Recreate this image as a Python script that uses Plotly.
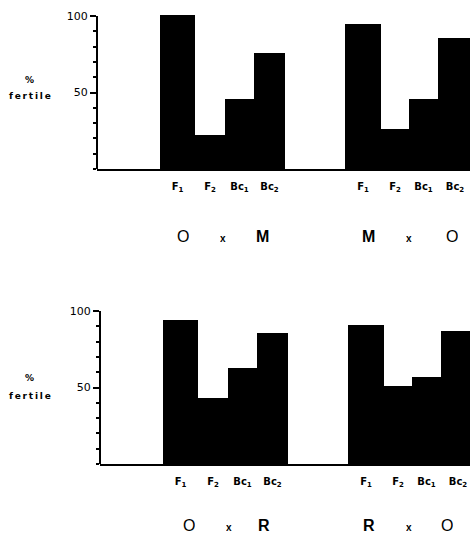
import plotly.graph_objects as go

# ---------------- data ----------------
generations = ["F<sub>1</sub>", "F<sub>2</sub>", "Bc<sub>1</sub>", "Bc<sub>2</sub>"]
crosses_top = [("O", "M"), ("M", "O")]
crosses_bottom = [("O", "R"), ("R", "O")]
fertile_OxM = [101, 22, 46, 76]
fertile_MxO = [95, 26, 46, 86]
fertile_OxR = [94, 43, 63, 86]
fertile_RxO = [91, 51, 57, 87]
y_tick_values = [50, 100]
y_tick_labels = ["50", "100"]

# ---------------- layout helpers ----------------
W, H = 470, 533
PX_PER_UNIT = 1.53
Y_MAX = 104
lead, gap = 63, 60
widths = [[35, 30, 29, 31], [36, 28, 29, 34]]

def py(p):
    return 1 - p / H

panels = [
    dict(axis_x=97, base=169, crosses=crosses_top, vals=[fertile_OxM, fertile_MxO],
         label_y=236, pct_y=80, fert_y=96,
         label_dx=[[-40, 0, 40], [-40, 0, 43]]),
    dict(axis_x=100, base=464, crosses=crosses_bottom, vals=[fertile_OxR, fertile_RxO],
         label_y=525, pct_y=378, fert_y=396,
         label_dx=[[-37, 3, 38], [-43, -3, 35]]),
]

fig = go.Figure()
font_fam = "DejaVu Sans, Liberation Sans, Arial"
annotations = []
shapes = []

for i, p in enumerate(panels, start=1):
    xa = "x" if i == 1 else f"x{i}"
    ya = "y" if i == 1 else f"y{i}"
    xs, ws, ys, tickx, tickt = [], [], [], [], []
    pos = lead
    centers = []
    for g in range(2):
        start = pos
        for k in range(4):
            w = widths[g][k]
            xs.append(pos + w / 2)
            ws.append(w)
            ys.append(p["vals"][g][k])
            tickx.append(pos + w / 2)
            tickt.append(generations[k])
            pos += w
        centers.append((start + pos) / 2)
        pos += gap
    fig.add_trace(go.Bar(x=xs, y=ys, width=ws, marker=dict(color="black", line=dict(width=0)),
                         xaxis=xa, yaxis=ya, showlegend=False, hoverinfo="skip"))
    xr = W - p["axis_x"]
    top_px = p["base"] - Y_MAX * PX_PER_UNIT
    fig.update_layout(**{
        ("xaxis" if i == 1 else f"xaxis{i}"): dict(
            domain=[p["axis_x"] / W, 1], range=[0, xr], anchor=ya,
            showline=True, linecolor="black", linewidth=2, showgrid=False, zeroline=False,
            tickvals=tickx, ticktext=tickt, ticks="", ticklabelstandoff=7,
            tickfont=dict(family=font_fam, size=10, color="black", weight="bold"),
            fixedrange=True),
        ("yaxis" if i == 1 else f"yaxis{i}"): dict(
            domain=[py(p["base"]), py(top_px)], range=[0, Y_MAX], anchor=xa,
            showline=False, showgrid=False, zeroline=False,
            tickvals=y_tick_values, ticktext=y_tick_labels, ticks="outside", ticklen=6,
            tickwidth=1.5, tickcolor="black",
            minor=dict(dtick=10, tick0=0, ticks="outside", ticklen=3, tickwidth=1.5,
                       tickcolor="black"),
            tickfont=dict(family=font_fam, size=11, color="black"),
            fixedrange=True),
    })
    # vertical axis line from 0 to 100
    shapes.append(dict(type="line", xref=f"{xa} domain", yref=ya, x0=0, x1=0, y0=0, y1=100,
                       line=dict(color="black", width=2)))
    # y axis title
    annotations.append(dict(text="%", x=30 / W, y=py(p["pct_y"]), xref="paper", yref="paper",
                            xanchor="center", yanchor="middle",
                            showarrow=False, font=dict(family=font_fam, size=9, color="black",
                                                       weight="bold")))
    annotations.append(dict(text="f\u2009e\u2009r\u2009t\u2009i\u2009l\u2009e", x=30 / W,
                            y=py(p["fert_y"]), xref="paper", yref="paper", showarrow=False,
                            xanchor="center", yanchor="middle",
                            font=dict(family=font_fam, size=9, color="black", weight="bold")))
    # cross labels
    for g, (a, b) in enumerate(p["crosses"]):
        c = centers[g]
        dxs = p["label_dx"][g]
        for txt, dx, sz, dy in [(a, dxs[0], 16, 0), ("x", dxs[1], 10, 2), (b, dxs[2], 16, 0)]:
            annotations.append(dict(text=txt, x=c + dx, y=py(p["label_y"] + dy), xref=xa,
                                    yref="paper", xanchor="center", yanchor="middle",
                                    height=14, showarrow=False,
                                    font=dict(family="Liberation Sans, Arial", size=sz,
                                              color="black",
                                              weight="bold" if txt in ("x", "M", "R") else "normal")))

fig.update_layout(width=W, height=H, margin=dict(l=0, r=0, t=0, b=0),
                  paper_bgcolor="white", plot_bgcolor="white", bargap=0,
                  annotations=annotations, shapes=shapes)
fig.write_html("out.html", config={"displayModeBar": False},
               post_script="document.body.style.margin='0';document.body.style.overflow='hidden';")
